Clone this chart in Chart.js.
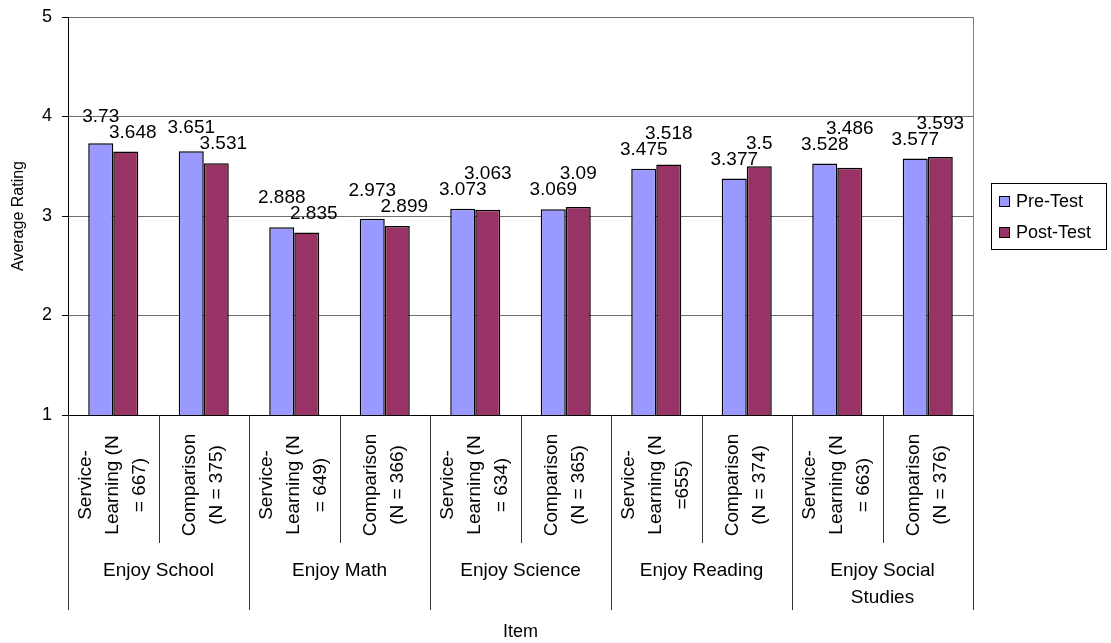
<!DOCTYPE html>
<html>
<head>
<meta charset="utf-8">
<script src="https://cdn.jsdelivr.net/npm/chart.js@4"></script>
<style>
  body { margin: 0; background: #fff; }
  canvas { display: block; }
</style>
</head>
<body>
<canvas id="chart" width="1111" height="643"></canvas>
<script>
// sub categories (one per bar pair), each as its label lines
var subLabels = [
    ['Service-', 'Learning (N', '= 667)'],
    ['Comparison', '(N = 375)'],
    ['Service-', 'Learning (N', '= 649)'],
    ['Comparison', '(N = 366)'],
    ['Service-', 'Learning (N', '= 634)'],
    ['Comparison', '(N = 365)'],
    ['Service-', 'Learning (N', '=655)'],
    ['Comparison', '(N = 374)'],
    ['Service-', 'Learning (N', '= 663)'],
    ['Comparison', '(N = 376)']
];
// outer groups, two sub categories each
var groupLabels = [
    ['Enjoy School'],
    ['Enjoy Math'],
    ['Enjoy Science'],
    ['Enjoy Reading'],
    ['Enjoy Social', 'Studies']
];
var preTest = [3.73, 3.651, 2.888, 2.973, 3.073, 3.069, 3.475, 3.377, 3.528, 3.577];
var postTest = [3.648, 3.531, 2.835, 2.899, 3.063, 3.09, 3.518, 3.5, 3.486, 3.593];
var yTicks = [1, 2, 3, 4, 5];

var FONT = '"Liberation Sans", Arial, sans-serif';
var PRE_COLOR = '#9999FF';
var POST_COLOR = '#993366';

// value labels above each bar, stacked when a pair would collide
var valueLabels = {
    id: 'valueLabels',
    afterDatasetsDraw: function (chart) {
        var ctx = chart.ctx;
        var preBars = chart.getDatasetMeta(0).data;
        var postBars = chart.getDatasetMeta(1).data;
        ctx.save();
        ctx.font = '19px ' + FONT;
        ctx.fillStyle = '#000';
        ctx.textAlign = 'center';
        ctx.textBaseline = 'middle';
        preBars.forEach(function (pb, i) {
            var qb = postBars[i];
            var yPre = pb.y - 19, yPost = qb.y - 19;
            var xPost = qb.x;
            if (qb.y - pb.y > 5) {
                // pre bar clearly higher: pre label on top, post nudged right
                xPost += 7;
                if (yPost - yPre < 16) yPre = yPost - 16;
            } else {
                if (yPre - yPost < 16) yPost = yPre - 16;
            }
            ctx.fillText(String(preTest[i]), pb.x, yPre);
            ctx.fillText(String(postTest[i]), xPost, yPost);
        });
        ctx.restore();
    }
};

// two level category axis + frame + legend box
var decorations = {
    id: 'decorations',
    afterDraw: function (chart) {
        var ctx = chart.ctx;
        var area = chart.chartArea;
        var xs = chart.scales.x;
        var n = subLabels.length;
        var w = (area.right - area.left) / n;
        ctx.save();

        // right frame line
        ctx.strokeStyle = '#808080';
        ctx.lineWidth = 1;
        ctx.beginPath();
        ctx.moveTo(Math.round(area.right) + 0.5, area.top);
        ctx.lineTo(Math.round(area.right) + 0.5, area.bottom);
        ctx.stroke();

        // separators under axis
        ctx.strokeStyle = '#333';
        for (var i = 0; i <= n; i++) {
            var x = Math.round(area.left + i * w) + 0.5;
            ctx.beginPath();
            ctx.moveTo(x, area.bottom);
            ctx.lineTo(x, i % 2 === 0 ? area.bottom + 195 : area.bottom + 128);
            ctx.stroke();
        }

        // rotated sub labels
        ctx.fillStyle = '#000';
        ctx.font = '19px ' + FONT;
        ctx.textAlign = 'center';
        ctx.textBaseline = 'middle';
        subLabels.forEach(function (lines, i) {
            var cx = xs.getPixelForValue(i);
            var lh = 27;
            lines.forEach(function (line, k) {
                var lx = cx + (k - (lines.length - 1) / 2) * lh;
                ctx.save();
                ctx.translate(lx, area.bottom + 70);
                ctx.rotate(-Math.PI / 2);
                ctx.fillText(line, 0, 0);
                ctx.restore();
            });
        });

        // group labels
        groupLabels.forEach(function (lines, g) {
            var cx = area.left + (g * 2 + 1) * w;
            lines.forEach(function (line, k) {
                ctx.fillText(line, cx, area.bottom + 156 + k * 27);
            });
        });

        // legend
        var lx = 991, ly = 183;
        ctx.fillStyle = '#fff';
        ctx.fillRect(lx, ly, 115, 66);
        ctx.strokeStyle = '#000';
        ctx.strokeRect(lx + 0.5, ly + 0.5, 115, 66);
        ctx.font = '18px ' + FONT;
        ctx.textAlign = 'left';
        chart.data.datasets.forEach(function (ds, di) {
            var yy = ly + 19 + di * 31;
            ctx.fillStyle = ds.backgroundColor;
            ctx.fillRect(lx + 8.5, yy - 5.5, 10, 10);
            ctx.strokeRect(lx + 8.5, yy - 5.5, 10, 10);
            ctx.fillStyle = '#000';
            ctx.fillText(ds.label, lx + 25, yy);
        });

        ctx.restore();
    }
};

new Chart(document.getElementById('chart'), {
    type: 'bar',
    data: {
        labels: subLabels.map(function (l) { return l.join(' '); }),
        datasets: [{
            label: 'Pre-Test',
            data: preTest,
            backgroundColor: PRE_COLOR,
            borderColor: '#000',
            borderWidth: 1.5
        }, {
            label: 'Post-Test',
            data: postTest,
            backgroundColor: POST_COLOR,
            borderColor: '#000',
            borderWidth: 1.5
        }]
    },
    options: {
        responsive: false,
        animation: false,
        devicePixelRatio: 1,
        categoryPercentage: 0.553,
        barPercentage: 1,
        layout: { padding: { top: 17, right: 138, left: 0, bottom: 0 } },
        plugins: {
            legend: { display: false },
            tooltip: { enabled: false }
        },
        scales: {
            x: {
                grid: { display: false },
                border: { color: '#000' },
                ticks: { display: false },
                title: {
                    display: true,
                    text: 'Item',
                    color: '#000',
                    font: { family: FONT, size: 18 },
                    padding: { top: 0, bottom: 0 }
                },
                afterFit: function (s) { s.height = 228; }
            },
            y: {
                min: 1,
                max: 5,
                afterBuildTicks: function (s) {
                    s.ticks = yTicks.map(function (v) { return { value: v }; });
                },
                grid: { color: '#707070', tickLength: 6, tickColor: '#000' },
                border: { color: '#000' },
                ticks: {
                    color: '#000',
                    padding: 10,
                    font: { family: FONT, size: 18 }
                },
                title: {
                    display: true,
                    text: 'Average Rating',
                    color: '#000',
                    font: { family: FONT, size: 16 },
                    padding: { top: 9, bottom: 0 }
                },
                afterFit: function (s) {
                    s.width = 68;
                    s.paddingTop = 0;
                    s.paddingBottom = 0;
                }
            }
        }
    },
    plugins: [valueLabels, decorations]
});
</script>
</body>
</html>
